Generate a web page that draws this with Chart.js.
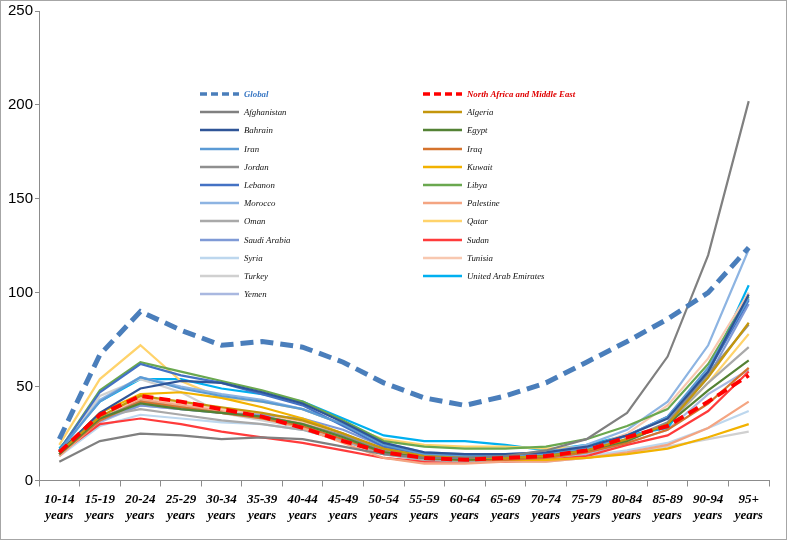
<!DOCTYPE html>
<html>
<head>
<meta charset="utf-8">
<script src="https://cdn.jsdelivr.net/npm/chart.js@4.4.0/dist/chart.umd.min.js"></script>
<style>
  body { margin: 0; background: #fff; }
  #wrap { position: relative; width: 787px; height: 540px; }
  #frame { position: absolute; left: 0; top: 0; width: 785px; height: 538px; border: 1px solid #a6a6a6; pointer-events: none; }
  #legend { position: absolute; left: 0; top: 0; width: 787px; height: 540px; font-family: "Liberation Serif", "DejaVu Serif", serif; font-style: italic; font-size: 8.8px; color: #111; pointer-events: none; }
  .item { position: absolute; display: flex; align-items: center; height: 12px; white-space: nowrap; }
  .item svg { flex-shrink: 0; margin-right: 5px; }
</style>
</head>
<body>
<div id="wrap">
  <canvas id="chart" width="787" height="540"></canvas>
  <div id="legend"></div>
  <div id="frame"></div>
</div>
<script>
const ageGroups = ['10-14','15-19','20-24','25-29','30-34','35-39','40-44','45-49','50-54','55-59','60-64','65-69','70-74','75-79','80-84','85-89','90-94','95+'];

const globalRate   = [22, 67, 90, 80, 72, 74, 71, 63, 52, 44, 40, 45, 52, 63, 74, 86, 100, 124];
const nameRate     = [15, 35, 45, 42, 38, 34, 28, 21, 15, 12, 11, 12, 13, 16, 23, 29, 42, 56];
const afghanistan  = [10, 21, 25, 24, 22, 23, 22, 18, 14, 12, 12, 13, 16, 22, 36, 66, 120, 202];
const algeria      = [15, 34, 45, 42, 39, 36, 32, 25, 17, 13, 12, 12, 13, 16, 22, 30, 55, 84];
const bahrain      = [15, 36, 49, 53, 52, 47, 41, 31, 20, 15, 14, 14, 15, 18, 24, 33, 58, 99];
const egypt        = [14, 33, 41, 38, 36, 34, 30, 23, 15, 12, 11, 12, 13, 16, 21, 30, 48, 64];
const iran         = [16, 42, 55, 49, 45, 42, 38, 30, 19, 14, 13, 13, 14, 17, 24, 34, 60, 97];
const iraq         = [14, 32, 42, 39, 36, 33, 29, 22, 15, 12, 11, 11, 12, 15, 20, 27, 41, 60];
const jordan       = [14, 33, 42, 39, 36, 34, 30, 24, 16, 12, 11, 12, 13, 16, 22, 31, 57, 83];
const kuwait       = [15, 36, 46, 47, 44, 39, 33, 25, 16, 12, 11, 11, 11, 12, 14, 17, 23, 30];
const lebanon      = [16, 47, 62, 56, 52, 46, 40, 29, 18, 14, 13, 13, 14, 17, 24, 34, 58, 96];
const libya        = [16, 48, 63, 58, 53, 48, 42, 32, 21, 18, 17, 17, 18, 22, 29, 38, 62, 98];
const morocco      = [15, 43, 55, 50, 46, 43, 38, 30, 20, 15, 14, 14, 15, 19, 27, 42, 72, 123];
const palestine    = [13, 32, 43, 40, 37, 33, 28, 20, 12, 9, 9, 10, 10, 12, 15, 19, 28, 42];
const oman         = [14, 34, 38, 35, 32, 30, 27, 21, 14, 11, 10, 11, 12, 15, 21, 30, 52, 71];
const qatar        = [19, 54, 72, 53, 44, 42, 38, 30, 22, 19, 18, 18, 17, 18, 22, 30, 52, 78];
const saudiArabia  = [14, 32, 40, 38, 36, 35, 33, 27, 18, 14, 12, 12, 13, 16, 22, 30, 55, 94];
const sudan        = [14, 30, 33, 30, 26, 23, 20, 16, 12, 10, 10, 10, 11, 13, 19, 24, 37, 58];
const syria        = [13, 29, 35, 33, 31, 30, 27, 21, 14, 11, 10, 10, 11, 13, 16, 20, 28, 37];
const tunisia      = [14, 33, 44, 41, 38, 35, 31, 24, 16, 12, 11, 12, 13, 17, 25, 40, 65, 100];
const turkey       = [15, 45, 54, 47, 36, 32, 28, 22, 14, 11, 10, 10, 10, 12, 15, 18, 22, 26];
const uae          = [17, 42, 54, 54, 49, 46, 42, 33, 24, 21, 21, 19, 16, 19, 24, 28, 57, 104];
const yemen        = [13, 31, 40, 38, 36, 34, 31, 25, 16, 12, 11, 11, 12, 14, 20, 27, 46, 59];

const yTicks = [0, 50, 100, 150, 200, 250];

// name, data, colour, legend column (0 left, 1 right)
const series = [
  ['Global', globalRate, '#4a7ebb', 0],
  ['North Africa and Middle East', nameRate, '#ff0000', 1],
  ['Afghanistan', afghanistan, '#808080', 0],
  ['Algeria', algeria, '#c4960c', 1],
  ['Bahrain', bahrain, '#2f5597', 0],
  ['Egypt', egypt, '#548235', 1],
  ['Iran', iran, '#5b9bd5', 0],
  ['Iraq', iraq, '#d5732d', 1],
  ['Jordan', jordan, '#8f8f8f', 0],
  ['Kuwait', kuwait, '#f2b200', 1],
  ['Lebanon', lebanon, '#4472c4', 0],
  ['Libya', libya, '#6aa84f', 1],
  ['Morocco', morocco, '#8db4e2', 0],
  ['Palestine', palestine, '#f4a582', 1],
  ['Oman', oman, '#a9a9a9', 0],
  ['Qatar', qatar, '#ffd36b', 1],
  ['Saudi Arabia', saudiArabia, '#7f9ad6', 0],
  ['Sudan', sudan, '#ff3b3b', 1],
  ['Syria', syria, '#bdd7ee', 0],
  ['Tunisia', tunisia, '#f8c8b0', 1],
  ['Turkey', turkey, '#d0d0d0', 0],
  ['United Arab Emirates', uae, '#00b0f0', 1],
  ['Yemen', yemen, '#a9b8e0', 0]
];

const datasets = series.map(([name, data, color], i) => {
  const ds = {
    label: name, data, borderColor: color, backgroundColor: color,
    borderWidth: 2.2, pointRadius: 0, tension: 0, fill: false,
    order: i
  };
  if (i === 0) { ds.borderWidth = 5; ds.borderDash = [13, 7]; }
  if (i === 1) { ds.borderWidth = 4; ds.borderDash = [11, 6]; }
  return ds;
});

const xLabels = ageGroups.map(a => [a, 'years']);

new Chart(document.getElementById('chart'), {
  type: 'line',
  data: { labels: xLabels, datasets },
  options: {
    responsive: false,
    animation: false,
    layout: { padding: { left: 6, right: 18, top: 1, bottom: 11 } },
    plugins: { legend: { display: false }, tooltip: { enabled: false } },
    scales: {
      x: {
        offset: true,
        grid: { drawOnChartArea: false, offset: true, tickLength: 6, color: '#8c8c8c' },
        border: { color: '#8c8c8c' },
        ticks: {
          color: '#000', maxRotation: 0, autoSkip: false, padding: 5,
          font: { family: '"Liberation Serif", serif', style: 'italic', weight: 'bold', size: 13, lineHeight: 1.25 }
        }
      },
      y: {
        min: 0, max: 250,
        afterBuildTicks: s => { s.ticks = yTicks.map(v => ({ value: v })); },
        grid: { drawOnChartArea: false, tickLength: 4, color: '#8c8c8c' },
        border: { color: '#8c8c8c' },
        ticks: { color: '#000', padding: 2, font: { family: '"Liberation Sans", Arial, sans-serif', size: 15 } }
      }
    }
  }
});

// legend in two columns inside the plot
const legend = document.getElementById('legend');
const colX = [200, 423];
const rows = [0, 0];
series.forEach(([name, , color, col], i) => {
  const item = document.createElement('div');
  item.className = 'item';
  item.style.left = colX[col] + 'px';
  item.style.top = (88 + rows[col] * 18.2) + 'px';
  rows[col]++;
  let dash = '', w = 2.5;
  if (i < 2) { dash = 'stroke-dasharray="7 4"'; w = 3.5; }
  item.innerHTML = `<svg width="39" height="6"><line x1="0" y1="3" x2="39" y2="3" stroke="${color}" stroke-width="${w}" ${dash}/></svg><span>${name}</span>`;
  if (i === 0) { item.style.fontWeight = 'bold'; item.style.color = '#3a78c4'; }
  if (i === 1) { item.style.fontWeight = 'bold'; item.style.color = '#e00000'; }
  legend.appendChild(item);
});
</script>
</body>
</html>
